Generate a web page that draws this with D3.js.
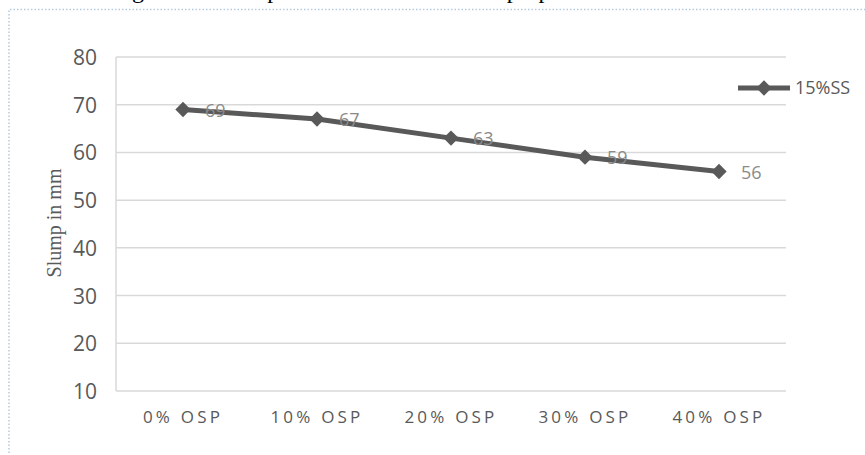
<!DOCTYPE html>
<html>
<head>
<meta charset="utf-8">
<script src="https://cdn.jsdelivr.net/npm/d3@7"></script>
<style>
  html, body { margin: 0; padding: 0; background: #fff; }
  svg { display: block; }
</style>
</head>
<body>
<svg id="chart" width="865" height="455"></svg>
<script>
// Slump values for the 15%SS mix at increasing OSP replacement
const categories = ["0% OSP", "10% OSP", "20% OSP", "30% OSP", "40% OSP"];
const slumpValues = [69, 67, 63, 59, 56];
const yTicks = [10, 20, 30, 40, 50, 60, 70, 80];
const seriesName = "15%SS";
const yTitle = "Slump in mm";
const caption = "Figure 4.5 Slump values for various mix proportions";

const svg = d3.select("#chart");
const W = 865, H = 455;
const margin = { left: 116, right: 79, top: 57, bottom: 64 };
const plotW = W - margin.left - margin.right;
const plotH = H - margin.top - margin.bottom;

const gridColor = "#d9d9d9";
const textColor = "#595959";
const lineColor = "#595959";

// caption from the page above, only its lower part falls inside the frame
svg.append("text")
  .attr("x", 112).attr("y", -2)
  .attr("font-family", "'Liberation Serif', 'Times New Roman', serif")
  .attr("font-size", 24)
  .attr("fill", "#000")
  .text(caption);

// dotted frame
svg.append("path")
  .attr("d", `M9,${H + 5} L9,9.5 L${W + 5},9.5`)
  .attr("fill", "none")
  .attr("stroke", "#b3c9de")
  .attr("stroke-width", 1.5)
  .attr("stroke-dasharray", "1.5,2");

const g = svg.append("g").attr("transform", `translate(${margin.left},${margin.top})`);

const x = d3.scaleBand().domain(categories).range([0, plotW]);
const y = d3.scaleLinear().domain([10, 80]).range([plotH, 0]);

// horizontal gridlines
g.append("g")
  .selectAll("line")
  .data(yTicks)
  .join("line")
  .attr("x1", 0).attr("x2", plotW)
  .attr("y1", d => y(d)).attr("y2", d => y(d))
  .attr("stroke", gridColor)
  .attr("stroke-width", 1.5);

// left axis line
g.append("line")
  .attr("x1", 0).attr("x2", 0)
  .attr("y1", y(80)).attr("y2", y(10))
  .attr("stroke", gridColor)
  .attr("stroke-width", 1.5);

// y axis labels
const yAxis = g.append("g")
  .attr("transform", "translate(-19,0)")
  .call(d3.axisLeft(y).tickValues(yTicks).tickSize(0).tickPadding(0));
yAxis.select(".domain").remove();
yAxis.selectAll("text")
  .attr("font-family", "'Open Sans', 'Liberation Sans', sans-serif")
  .attr("font-size", 21)
  .attr("fill", textColor)
  .attr("dy", "0.36em");

// x axis labels
const xAxis = g.append("g")
  .attr("transform", `translate(0,${plotH})`)
  .call(d3.axisBottom(x).tickSize(0).tickPadding(0));
xAxis.select(".domain").remove();
xAxis.selectAll("text")
  .attr("font-family", "'Open Sans', 'Liberation Sans', sans-serif")
  .attr("font-size", 17)
  .attr("letter-spacing", "3.2px")
  .attr("fill", textColor)
  .attr("dy", 0)
  .attr("y", 32);

// y axis title
svg.append("text")
  .attr("transform", "translate(61,223) rotate(-90)")
  .attr("text-anchor", "middle")
  .attr("font-family", "'Liberation Serif', 'Times New Roman', serif")
  .attr("font-size", 20)
  .attr("fill", textColor)
  .text(yTitle);

const cx = d => x(d) + x.bandwidth() / 2;

// series line
const line = d3.line()
  .x((d, i) => cx(categories[i]))
  .y(d => y(d));

g.append("path")
  .datum(slumpValues)
  .attr("d", line)
  .attr("fill", "none")
  .attr("stroke", lineColor)
  .attr("stroke-width", 5)
  .attr("stroke-linejoin", "round");

const diamond = d3.symbol().type(d3.symbolDiamond2).size(150);

g.append("g")
  .selectAll("path")
  .data(slumpValues)
  .join("path")
  .attr("d", diamond)
  .attr("transform", (d, i) => `translate(${cx(categories[i])},${y(d)})`)
  .attr("fill", lineColor);

// data labels
g.append("g")
  .selectAll("text")
  .data(slumpValues)
  .join("text")
  .attr("x", (d, i) => cx(categories[i]) + 22)
  .attr("y", d => y(d))
  .attr("dy", "0.4em")
  .attr("font-family", "'Open Sans', 'Liberation Sans', sans-serif")
  .attr("font-size", 18)
  .attr("fill", "#8a8a8a")
  .text(d => d);

// legend
const lg = svg.append("g").attr("transform", "translate(738,88)");
lg.append("line")
  .attr("x1", 0).attr("x2", 52)
  .attr("y1", 0).attr("y2", 0)
  .attr("stroke", lineColor)
  .attr("stroke-width", 5);
lg.append("path")
  .attr("d", diamond)
  .attr("transform", "translate(26,0)")
  .attr("fill", lineColor);
lg.append("text")
  .attr("x", 57).attr("y", 0)
  .attr("dy", "0.36em")
  .attr("font-family", "'Open Sans', 'Liberation Sans', sans-serif")
  .attr("font-size", 18)
  .attr("fill", textColor)
  .text(seriesName);
</script>
</body>
</html>
